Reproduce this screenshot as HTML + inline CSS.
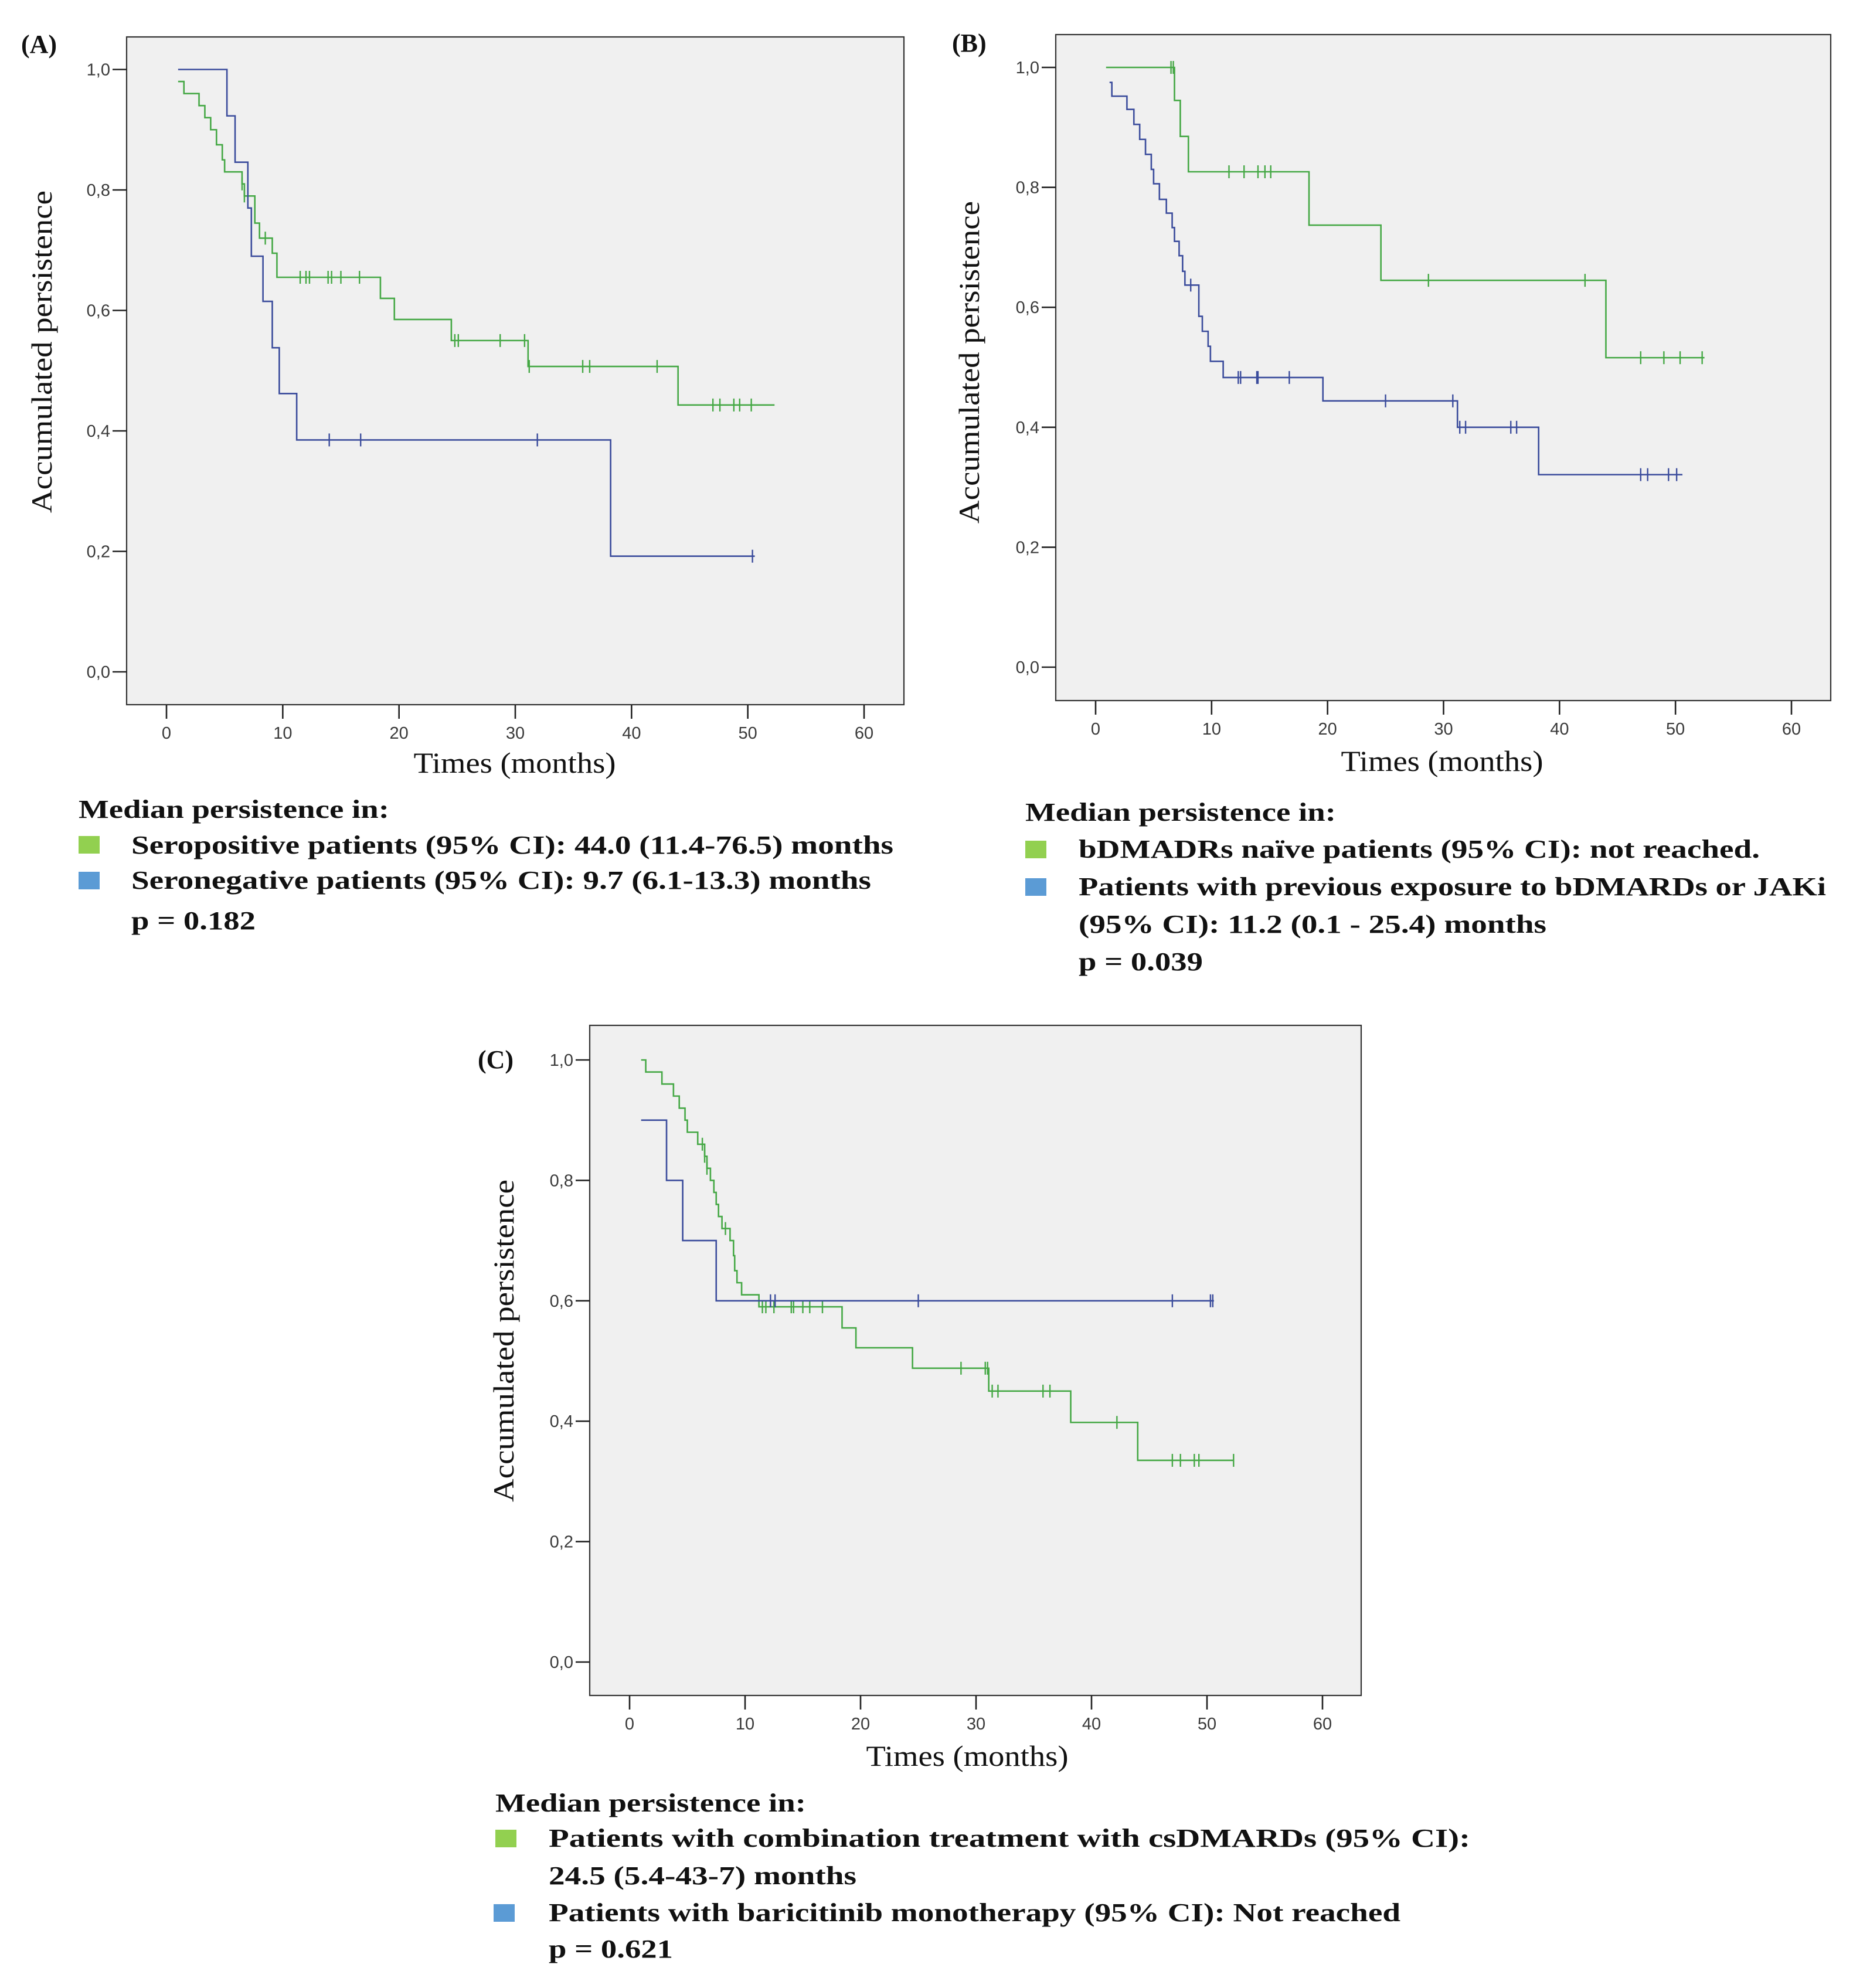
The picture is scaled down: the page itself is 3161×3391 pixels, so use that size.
<!DOCTYPE html>
<html><head><meta charset="utf-8">
<style>
html,body{margin:0;padding:0;background:#fff;}
svg{display:block;}
text{font-family:"Liberation Serif",serif;}
.tick{font-family:"Liberation Sans",sans-serif;font-size:29px;fill:#3a3a3a;}
.leg{font-weight:bold;font-size:44px;fill:#111;}
</style></head>
<body>
<svg id="fig" xmlns="http://www.w3.org/2000/svg" width="3161" height="3391" viewBox="0 0 3161 3391">
<g>
<text class="leg" x="134" y="1395" textLength="530" lengthAdjust="spacingAndGlyphs">Median persistence in:</text>
<rect x="134" y="1426" width="36" height="30" fill="#92d050"/>
<text class="leg" x="224" y="1456" textLength="1300" lengthAdjust="spacingAndGlyphs">Seropositive patients (95% CI): 44.0 (11.4-76.5) months</text>
<rect x="134" y="1487" width="36" height="30" fill="#5b9bd5"/>
<text class="leg" x="224" y="1516" textLength="1262" lengthAdjust="spacingAndGlyphs">Seronegative patients (95% CI): 9.7 (6.1-13.3) months</text>
<text class="leg" x="224" y="1585" textLength="212" lengthAdjust="spacingAndGlyphs">p = 0.182</text>
</g>
<g>
<text class="leg" x="1749" y="1400" textLength="530" lengthAdjust="spacingAndGlyphs">Median persistence in:</text>
<rect x="1749" y="1434" width="36" height="30" fill="#92d050"/>
<text class="leg" x="1840" y="1463" textLength="1162" lengthAdjust="spacingAndGlyphs">bDMADRs naïve patients (95% CI): not reached.</text>
<rect x="1749" y="1498" width="36" height="30" fill="#5b9bd5"/>
<text class="leg" x="1840" y="1527" textLength="1275" lengthAdjust="spacingAndGlyphs">Patients with previous exposure to bDMARDs or JAKi</text>
<text class="leg" x="1840" y="1591" textLength="798" lengthAdjust="spacingAndGlyphs">(95% CI): 11.2 (0.1 - 25.4) months</text>
<text class="leg" x="1840" y="1655" textLength="212" lengthAdjust="spacingAndGlyphs">p = 0.039</text>
</g>
<g>
<text class="leg" x="845" y="3090" textLength="530" lengthAdjust="spacingAndGlyphs">Median persistence in:</text>
<rect x="845" y="3121" width="36" height="30" fill="#92d050"/>
<text class="leg" x="936" y="3150" textLength="1572" lengthAdjust="spacingAndGlyphs">Patients with combination treatment with csDMARDs (95% CI):</text>
<text class="leg" x="936" y="3214" textLength="525" lengthAdjust="spacingAndGlyphs">24.5 (5.4-43-7) months</text>
<rect x="842" y="3248" width="36" height="30" fill="#5b9bd5"/>
<text class="leg" x="936" y="3277" textLength="1453" lengthAdjust="spacingAndGlyphs">Patients with baricitinib monotherapy (95% CI): Not reached</text>
<text class="leg" x="936" y="3339" textLength="212" lengthAdjust="spacingAndGlyphs">p = 0.621</text>
</g>
</svg>
<script>
// ---- data ----
const xTickLabels = ["0","10","20","30","40","50","60"];
const xTickValues = [0,10,20,30,40,50,60];
const yTickLabels = ["0,0","0,2","0,4","0,6","0,8","1,0"];
const yTickValues = [0,0.2,0.4,0.6,0.8,1.0];

// Panel A
const aGreenTimes = [1, 1.5, 2.8, 3.3, 3.8, 4.3, 4.8, 5.0, 6.5, 6.7, 7.6, 8.0, 9.1, 9.5, 18.4, 19.6, 24.5, 31.1, 44.0];
const aGreenSurv  = [0.98, 0.96, 0.94, 0.92, 0.90, 0.875, 0.85, 0.83, 0.81, 0.79, 0.745, 0.72, 0.695, 0.655, 0.62, 0.585, 0.55, 0.507, 0.443];
const aGreenCens  = [6.5, 6.7, 8.5, 11.5, 12.0, 12.3, 13.9, 14.2, 15.0, 16.6, 24.8, 25.1, 28.7, 30.8, 31.2, 35.8, 36.4, 42.2, 47.0, 47.6, 48.8, 49.3, 50.3];
const aGreenEnd = 52.3;
const aBlueTimes = [1, 5.2, 5.9, 7.0, 7.3, 8.3, 9.1, 9.7, 11.2, 38.2];
const aBlueSurv  = [1.0, 0.923, 0.846, 0.77, 0.69, 0.615, 0.538, 0.462, 0.385, 0.192];
const aBlueCens  = [14.0, 16.7, 31.9, 50.4];
const aBlueEnd = 50.6;

// Panel B
const bGreenTimes = [0.9, 6.8, 7.3, 8.0, 18.4, 24.6, 44.0];
const bGreenSurv  = [1.0, 0.945, 0.885, 0.826, 0.737, 0.645, 0.516];
const bGreenCens  = [6.5, 6.7, 11.5, 12.8, 14.0, 14.6, 15.1, 28.7, 42.2, 47.0, 49.0, 50.4, 52.3];
const bGreenEnd = 52.5;
const bBlueTimes = [1.2, 1.4, 2.7, 3.3, 3.8, 4.3, 4.8, 5.0, 5.5, 6.1, 6.6, 6.8, 7.2, 7.5, 7.7, 8.9, 9.2, 9.7, 9.9, 11.0, 19.6, 31.2, 38.2];
const bBlueSurv  = [0.975, 0.952, 0.93, 0.905, 0.88, 0.855, 0.83, 0.806, 0.78, 0.757, 0.733, 0.71, 0.686, 0.66, 0.637, 0.585, 0.56, 0.535, 0.51, 0.483, 0.444, 0.40, 0.321];
const bBlueCens  = [8.2, 12.3, 12.5, 13.9, 14.0, 16.7, 25.0, 30.8, 31.4, 31.9, 35.8, 36.3, 47.0, 47.6, 49.4, 50.1];
const bBlueEnd = 50.6;

// Panel C
const cGreenTimes = [1.0, 1.4, 2.8, 3.8, 4.3, 4.8, 5.0, 5.9, 6.5, 6.7, 7.0, 7.3, 7.5, 7.7, 8.0, 8.7, 9.0, 9.1, 9.3, 9.7, 11.2, 18.4, 19.6, 24.5, 31.1, 38.2, 44.0];
const cGreenSurv  = [1.0, 0.98, 0.96, 0.94, 0.92, 0.90, 0.88, 0.86, 0.84, 0.82, 0.80, 0.78, 0.76, 0.74, 0.72, 0.70, 0.675, 0.65, 0.63, 0.61, 0.59, 0.555, 0.522, 0.488, 0.45, 0.398, 0.335];
const cGreenCens  = [6.3, 6.5, 6.7, 8.3, 11.5, 11.8, 12.5, 14.0, 14.2, 15.0, 15.6, 16.7, 28.7, 30.8, 31.0, 31.4, 31.9, 35.8, 36.4, 42.2, 47.0, 47.7, 48.9, 49.3, 52.3];
const cGreenEnd = 52.3;
const cBlueTimes = [1.0, 3.2, 4.6, 7.5];
const cBlueSurv  = [0.9, 0.8, 0.7, 0.6];
const cBlueCens  = [12.2, 12.6, 25.0, 47.0, 50.3, 50.5];
const cBlueEnd = 50.6;

const GREEN = "#45a845", BLUE = "#3b4c9c";
const NS = "http://www.w3.org/2000/svg";
const svg = document.getElementById("fig");

function mk(tag, attrs, parent){
  const e = document.createElementNS(NS, tag);
  for (const k in attrs) e.setAttribute(k, attrs[k]);
  parent.appendChild(e);
  return e;
}

function drawSeries(g, xs, ys, times, surv, cens, end, color, name){
  let d = "M" + xs(times[0]) + "," + ys(surv[0]);
  for (let i = 1; i < times.length; i++){
    d += " H" + xs(times[i]) + " V" + ys(surv[i]);
  }
  d += " H" + xs(end);
  const p = mk("path", {d: d, fill: "none", stroke: color, "stroke-width": 2.6}, g);
  
  
  cens.forEach(function(t){
    let s = surv[0];
    for (let i = 0; i < times.length; i++){ if (times[i] <= t) s = surv[i]; }
    const l = mk("line", {x1: xs(t), x2: xs(t), y1: ys(s) - 11, y2: ys(s) + 11, stroke: color, "stroke-width": 2.4}, g);
    
    
  });
}

function drawPanel(cfg){
  const g = mk("g", {}, svg);
  
  
  const xs = v => cfg.x0 + (cfg.x60 - cfg.x0) * v / 60;
  const ys = v => cfg.y0 + (cfg.y1 - cfg.y0) * v;
  const bg = mk("rect", {x: cfg.L, y: cfg.T, width: cfg.R - cfg.L, height: cfg.B - cfg.T, fill: "#f0f0f0", stroke: "#333", "stroke-width": 2.2}, g);
  
  
  yTickValues.forEach(function(v, i){
    const t = mk("line", {x1: cfg.L - 24, x2: cfg.L, y1: ys(v), y2: ys(v), stroke: "#222", "stroke-width": 2.6}, g);
    
    
    const tx = mk("text", {x: cfg.L - 28, y: ys(v) + 10, "text-anchor": "end", class: "tick"}, g);
    tx.textContent = yTickLabels[i];
    
    
  });
  xTickValues.forEach(function(v, i){
    const t = mk("line", {x1: xs(v), x2: xs(v), y1: cfg.B, y2: cfg.B + 24, stroke: "#222", "stroke-width": 2.6}, g);
    
    
    const tx = mk("text", {x: xs(v), y: cfg.B + 58, "text-anchor": "middle", class: "tick"}, g);
    tx.textContent = xTickLabels[i];
    
    
  });
  const xl = mk("text", {x: cfg.xlx, y: cfg.xly, "text-anchor": "middle", "font-size": 50, fill: "#111", textLength: 345, lengthAdjust: "spacingAndGlyphs"}, g);
  xl.textContent = "Times (months)";
  
  
  const yl = mk("text", {x: 0, y: 0, "text-anchor": "middle", "font-size": 50, fill: "#111", textLength: 550, lengthAdjust: "spacingAndGlyphs", transform: "translate(" + cfg.ylx + "," + cfg.yly + ") rotate(-90)"}, g);
  yl.textContent = "Accumulated persistence";
  
  
  const lab = mk("text", {x: cfg.labx, y: cfg.laby, "font-size": 44, "font-weight": "bold", fill: "#111"}, g);
  lab.textContent = cfg.label;
  
  
  cfg.series.forEach(function(s){
    drawSeries(g, xs, ys, s[0], s[1], s[2], s[3], s[4], s[5]);
  });
}

drawPanel({name: "panel-a", L: 216, R: 1542, T: 63, B: 1202, x0: 284, x60: 1474, y0: 1146, y1: 118.5,
  xlx: 878, xly: 1318, ylx: 88, yly: 600, label: "(A)", labx: 36, laby: 90,
  series: [[aGreenTimes, aGreenSurv, aGreenCens, aGreenEnd, GREEN, "seropositive"],
           [aBlueTimes, aBlueSurv, aBlueCens, aBlueEnd, BLUE, "seronegative"]]});
drawPanel({name: "panel-b", L: 1801, R: 3123, T: 59, B: 1195, x0: 1869, x60: 3056, y0: 1138, y1: 115,
  xlx: 2460, xly: 1315, ylx: 1670, yly: 618, label: "(B)", labx: 1624, laby: 88,
  series: [[bGreenTimes, bGreenSurv, bGreenCens, bGreenEnd, GREEN, "bdmard-naive"],
           [bBlueTimes, bBlueSurv, bBlueCens, bBlueEnd, BLUE, "previous-exposure"]]});
drawPanel({name: "panel-c", L: 1006, R: 2322, T: 1749, B: 2892, x0: 1074, x60: 2256, y0: 2835, y1: 1808,
  xlx: 1650, xly: 3012, ylx: 876, yly: 2287, label: "(C)", labx: 815, laby: 1822,
  series: [[cGreenTimes, cGreenSurv, cGreenCens, cGreenEnd, GREEN, "combination"],
           [cBlueTimes, cBlueSurv, cBlueCens, cBlueEnd, BLUE, "monotherapy"]]});
</script>
</body></html>
